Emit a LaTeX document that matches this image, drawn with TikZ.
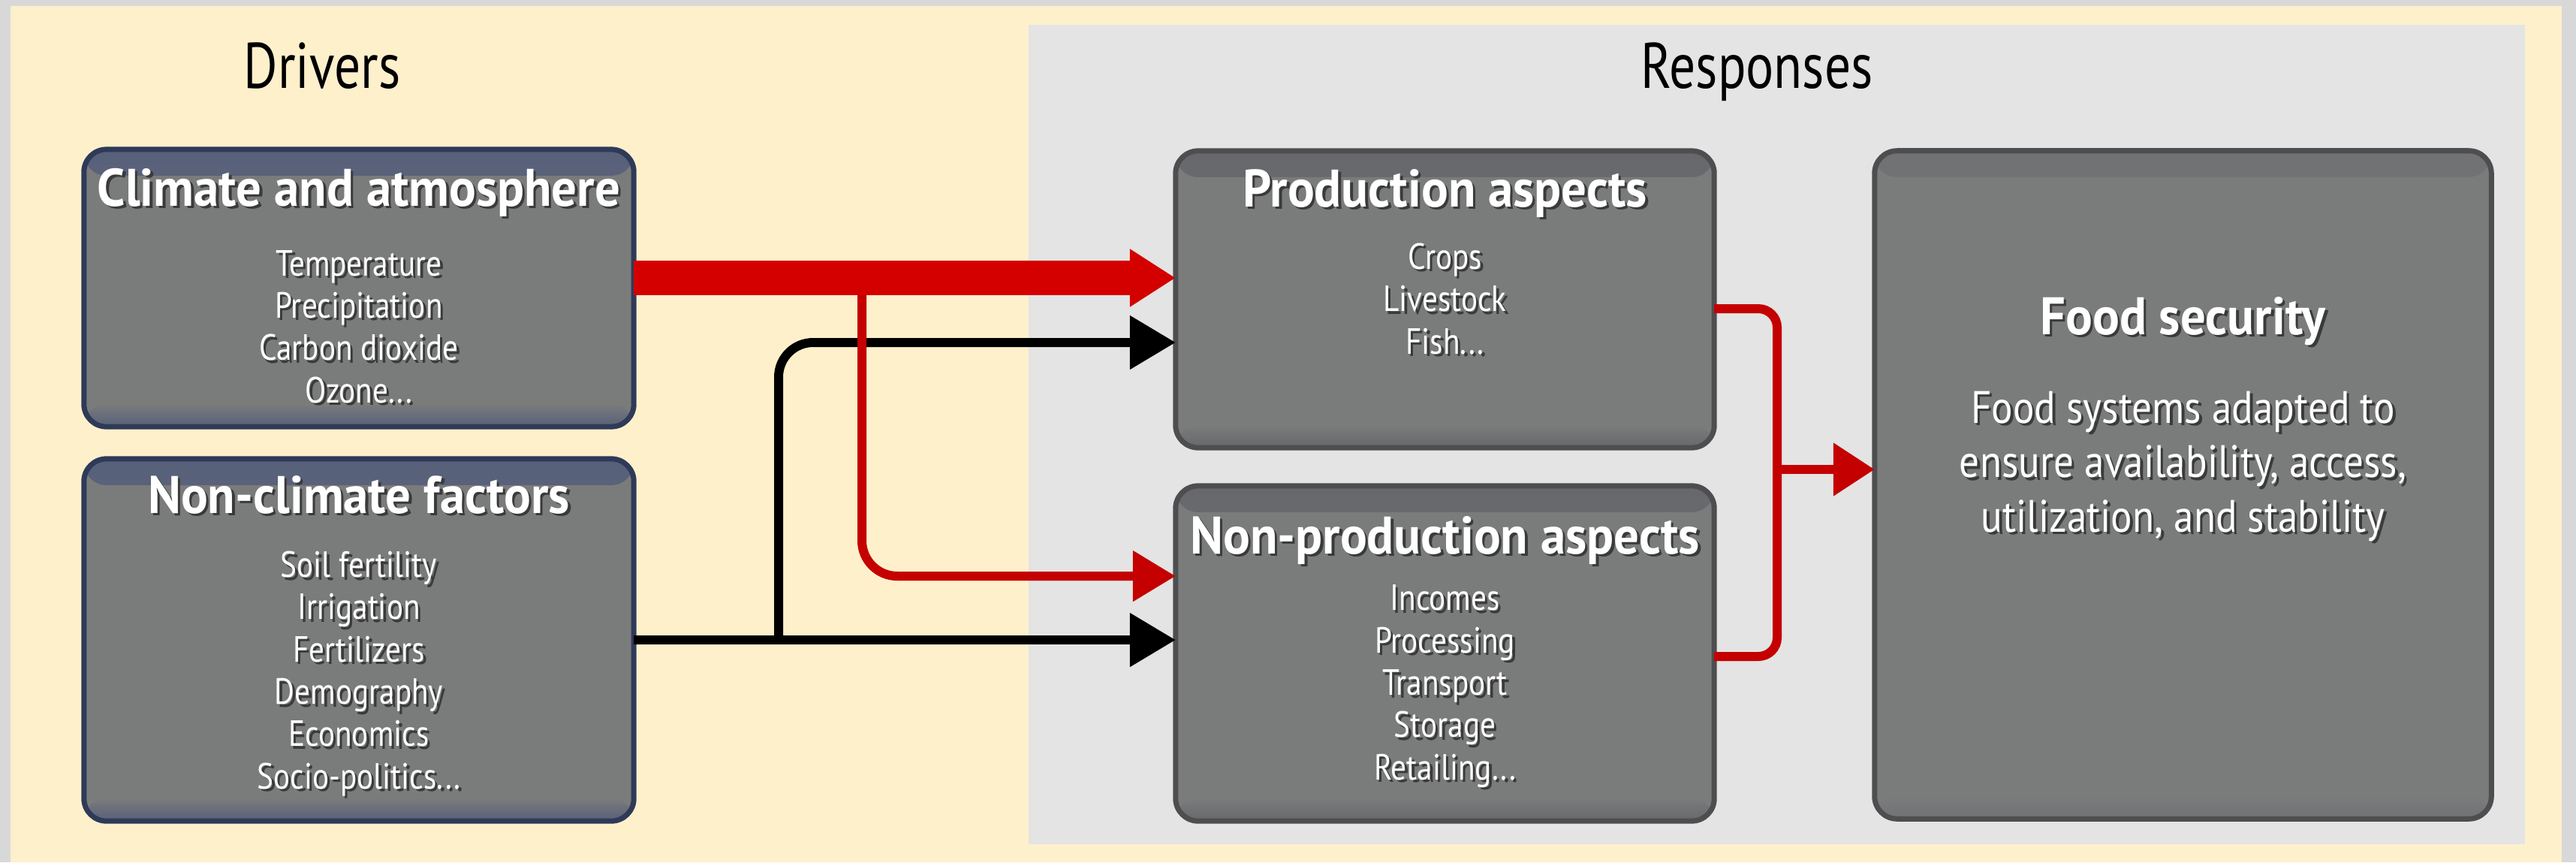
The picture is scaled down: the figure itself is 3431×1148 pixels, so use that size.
\documentclass[tikz,border=0pt]{standalone}
\usepackage{fontspec}
\setmainfont{PT Sans}[FakeStretch=0.85]
\newfontfamily\headfont{PT Sans}[FakeStretch=0.81]
\newfontfamily\ttlfont{PT Sans}[FakeStretch=0.95]
\newfontfamily\bodyfont{PT Sans}[FakeStretch=0.88]
\usetikzlibrary{arrows.meta}
\definecolor{bggray}{HTML}{D8D8D8}
\definecolor{cream}{HTML}{FFF0CC}
\definecolor{respbg}{HTML}{E4E4E4}
\definecolor{boxgray}{HTML}{7A7B7B}
\definecolor{navyb}{HTML}{2F3A58}
\definecolor{darkb}{HTML}{4E4E50}
\definecolor{bandn}{HTML}{57607A}
\definecolor{bandg}{HTML}{67686B}
\definecolor{bandf}{HTML}{717273}
\definecolor{shadowc}{HTML}{3A3A3A}
\definecolor{redA}{HTML}{D40000}
\definecolor{redB}{HTML}{C40000}
\newcommand\shd[1]{\makebox[0pt][l]{\hspace{1pt}\raisebox{-1pt}{\textcolor{shadowc}{#1}}}#1}
\begin{document}
\begin{tikzpicture}[x=0.01cm,y=-0.01cm,
  box/.style={draw, rounded corners=0.3cm, line width=0.07cm, fill=boxgray, inner sep=0pt, outer sep=0pt,
    path picture={
      \shade[top color=#1, bottom color=boxgray] (path picture bounding box.north west) rectangle ([yshift=-0.35cm]path picture bounding box.north east);
      \shade[top color=boxgray, bottom color=#1] ([yshift=0.3cm]path picture bounding box.south west) rectangle (path picture bounding box.south east);
    }},
  head/.style={text=black, font=\headfont\fontsize{24.4}{28}\selectfont, anchor=base, inner sep=0pt},
  ttl/.style={text=white, font=\ttlfont\bfseries\fontsize{20}{23}\selectfont, anchor=base, inner sep=0pt},
  items/.style={text=white, align=center, font=\fontsize{13.8}{16}\selectfont, anchor=base, inner sep=0pt},
  body/.style={text=white, align=center, font=\bodyfont\fontsize{17.2}{20.6}\selectfont, anchor=base, inner sep=0pt},
  blackln/.style={draw=black, line width=0.12cm, -{Triangle[length=0.61cm,width=0.69cm]}},
  redthick/.style={draw=redA, line width=0.45cm, -{Triangle[length=0.61cm,width=0.73cm]}},
  redthin/.style={draw=redB, line width=0.12cm}
]
% backgrounds
\fill[bggray] (0,0) rectangle (3431,1148);
\fill[cream] (14,8) rectangle (3412,1148);
\fill[respbg] (1370,33) rectangle (3363,1124);

% headings
\node[head] (drv) at (429,117) {Drivers};
\node[head] (rsp) at (2340,117) {Responses};

% boxes
\node[box=bandn, draw=navyb, minimum width=7.32cm, minimum height=3.69cm] (clim) at (478,383.5) {};
\node[box=bandn, draw=navyb, minimum width=7.32cm, minimum height=4.82cm] (ncl) at (478,852) {};
\node[box=bandg, draw=darkb, minimum width=7.17cm, minimum height=3.95cm] (prod) at (1924.5,398.5) {};
\node[box=bandg, draw=darkb, minimum width=7.17cm, minimum height=4.46cm] (np) at (1924.5,870) {};
\node[box=bandf, draw=darkb, minimum width=8.21cm, minimum height=8.89cm] (food) at (2907.5,645.5) {};

% box texts (multi-line nodes: base = last line)
\node[ttl] (climT) at (478,274) {\shd{Climate and atmosphere}};
\node[items] (climI) at (478,536) {\shd{Temperature}\\\shd{Precipitation}\\\shd{Carbon dioxide}\\\shd{Ozone...}};
\node[ttl] (nclT) at (478,683) {\shd{Non-climate factors}};
\node[items] (nclI) at (478,1050) {\shd{Soil fertility}\\\shd{Irrigation}\\\shd{Fertilizers}\\\shd{Demography}\\\shd{Economics}\\\shd{Socio-politics...}};
\node[ttl] (prodT) at (1924.5,275) {\shd{Production aspects}};
\node[items] (prodI) at (1924.5,471) {\shd{Crops}\\\shd{Livestock}\\\shd{Fish...}};
\node[ttl] (npT) at (1924.5,737) {\shd{Non-production aspects}};
\node[items] (npI) at (1924.5,1038) {\shd{Incomes}\\\shd{Processing}\\\shd{Transport}\\\shd{Storage}\\\shd{Retailing...}};
\node[ttl] (foodT) at (2907.5,445) {\shd{Food security}};
\node[body] (foodB) at (2907.5,708) {\shd{Food systems adapted to}\\\shd{ensure availability, access,}\\\shd{utilization, and stability}};

% junction coordinates
\coordinate (bj) at (1037,852);
\coordinate (rj) at (1148,370);
\coordinate (cj) at (2367,625);

% black connectors
\draw[blackln] (ncl.east |- bj) -- (np.west |- bj);
\draw[blackln, rounded corners=0.46cm] (bj) -- (1037,456) -- (prod.west |- 0,456);

% red connectors
\draw[redthin, rounded corners=0.47cm, -{Triangle[length=0.57cm,width=0.65cm]}] (rj) -- (1148,767) -- (np.west |- 0,767);
\draw[redthick] (clim.east |- rj) -- (prod.west |- rj);
\draw[redthin, rounded corners=0.25cm] (prod.east |- 0,411) -- (2367,411) -- (2367,874) -- (np.east |- 0,874);
\draw[redthin, -{Triangle[length=0.55cm,width=0.68cm]}] (cj) -- (food.west |- cj);
\end{tikzpicture}
\end{document}
